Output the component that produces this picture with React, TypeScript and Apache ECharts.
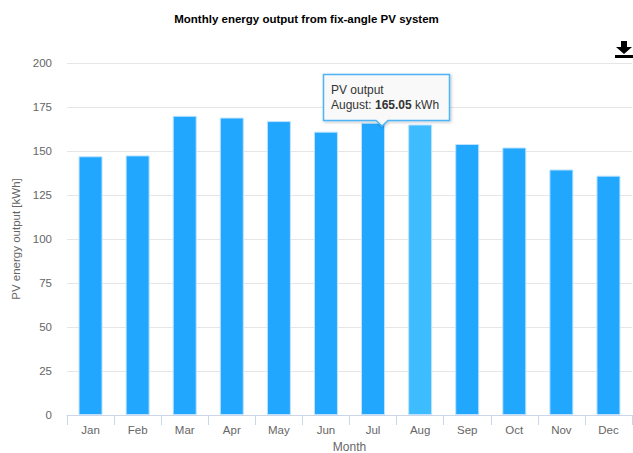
import React, { useEffect, useRef } from "react";
import * as echarts from "echarts";

const months = ["Jan", "Feb", "Mar", "Apr", "May", "Jun", "Jul", "Aug", "Sep", "Oct", "Nov", "Dec"];
const output = [147, 147.5, 170, 169, 167, 161, 166, 165.05, 154, 152, 139.5, 136];
const hoverIndex = 7;
const font = "'Liberation Sans', Arial, sans-serif";

echarts.graphic.registerShape(
  "dlIcon",
  echarts.graphic.extendPath("M6 0L12 0L12 6L17 6L9 13L1 6L6 6ZM0 14L18 14L18 17L0 17Z", {})
);

export default function App() {
  const ref = useRef<HTMLDivElement>(null);
  useEffect(() => {
    document.body.style.margin = "0";
    const chart = echarts.init(ref.current!, null, { renderer: "svg" });
    chart.setOption({
      animation: false,
      backgroundColor: "#ffffff",
      textStyle: { fontFamily: font },
      title: {
        text: "Monthly energy output from fix-angle PV system",
        left: 301.5, top: 8, textAlign: "center",
        textStyle: { fontFamily: font, fontSize: 11.5, fontWeight: "bold", color: "#000000" },
      },
      grid: { left: 67, right: 1, top: 63, bottom: 38, outerBoundsMode: "none", containLabel: false },
      xAxis: {
        type: "category", data: months,
        name: "Month", nameLocation: "middle", nameGap: 26,
        nameTextStyle: { fontFamily: font, fontSize: 12, color: "#666666" },
        axisLine: { show: true, lineStyle: { color: "#ccd6eb", width: 1 } },
        axisTick: { show: true, alignWithLabel: false, length: 10, lineStyle: { color: "#ccd6eb", width: 1 } },
        axisLabel: { fontFamily: font, fontSize: 11.5, color: "#666666", margin: 9 },
      },
      yAxis: {
        type: "value", min: 0, max: 200, interval: 25,
        name: "PV energy output [kWh]", nameLocation: "middle", nameGap: 43,
        nameTextStyle: { fontFamily: font, fontSize: 11.5, color: "#666666" },
        axisLine: { show: false }, axisTick: { show: false },
        axisLabel: { fontFamily: font, fontSize: 11.5, color: "#666666", margin: 15 },
        splitLine: { lineStyle: { color: "#e6e6e6", width: 1 } },
      },
      series: [{
        type: "bar", name: "PV output", barWidth: 24,
        data: output.map((v, i) => i === hoverIndex
          ? { value: v, itemStyle: { color: "#3dbdff" } }
          : v),
        itemStyle: { color: "#22a7ff", borderColor: "#bfe3ff", borderWidth: 1 },
      }],
      graphic: [
        { type: "dlIcon", x: 615, y: 41, style: { fill: "#000000" }, z: 20 },
        { type: "polygon", shape: { points: [[323.5, 74.5], [449.5, 74.5], [449.5, 120.5], [388, 120.5], [382, 126], [376, 120.5], [323.5, 120.5]] },
          style: { fill: "#f9f9f9", stroke: "#4db5f5", lineWidth: 1.5, shadowBlur: 3, shadowColor: "rgba(0,0,0,0.25)", shadowOffsetX: 1, shadowOffsetY: 1 }, z: 30 },
        { type: "text", x: 331, y: 84, z: 31, style: { text: "PV output", font: `12px ${font}`, fill: "#333333" } },
        { type: "text", x: 331, y: 99, z: 31, style: { text: "August: {b|165.05} kWh", font: `12px ${font}`, fill: "#333333",
          rich: { b: { fontFamily: font, fontSize: 12, fontWeight: "bold", fill: "#333333" } } } },
      ],
    });
    return () => chart.dispose();
  }, []);
  return <div ref={ref} style={{ width: 633, height: 453 }} />;
}
